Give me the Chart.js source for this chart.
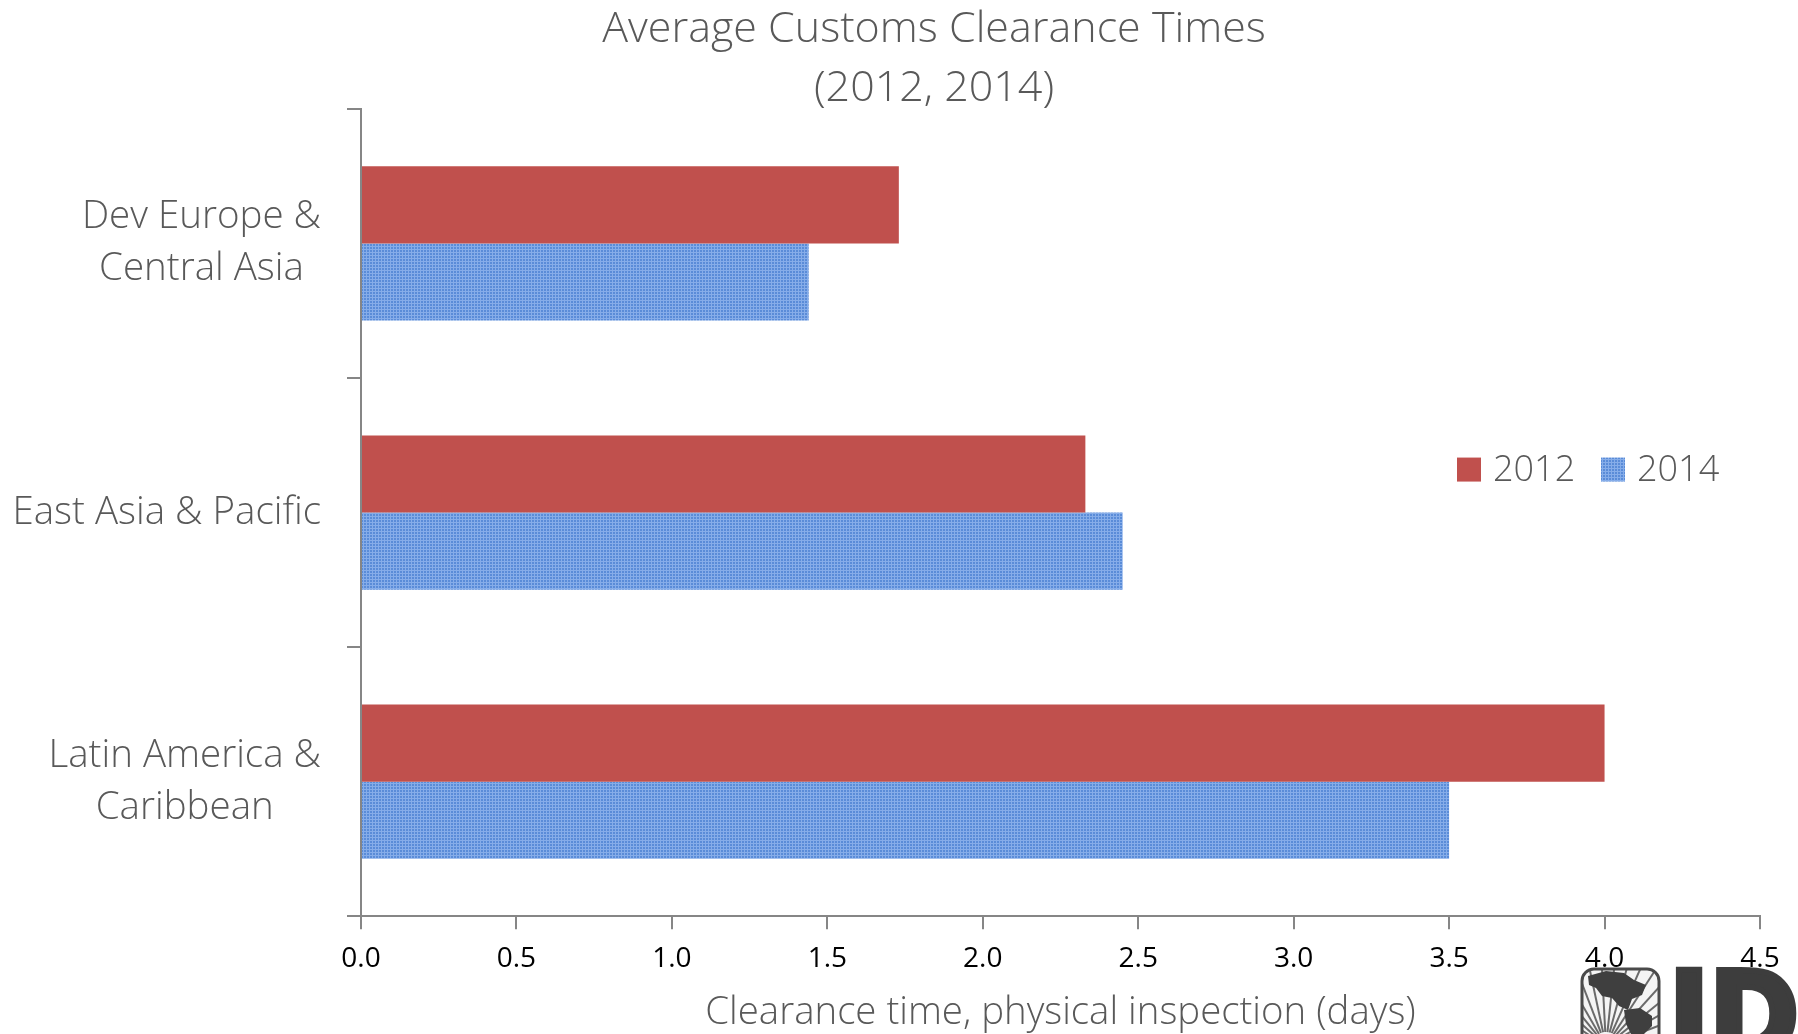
<!DOCTYPE html>
<html>
<head>
<meta charset="utf-8">
<title>Average Customs Clearance Times</title>
<script src="https://cdn.jsdelivr.net/npm/chart.js@4/dist/chart.umd.min.js"></script>
<style>
  html, body { margin: 0; padding: 0; background: #ffffff; }
  #wrap { width: 1798px; height: 1034px; }
</style>
</head>
<body>
<div id="wrap"><canvas id="chart" width="1798" height="1034"></canvas></div>
<script>
// Regions (multi-line labels are split into lines)
const regions = [
  ['Dev Europe &', 'Central Asia'],
  ['East Asia & Pacific'],
  ['Latin America &', 'Caribbean']
];
const seriesNames = ['2012', '2014'];
// Clearance time, physical inspection (days)
const days2012 = [1.73, 2.33, 4.0];
const days2014 = [1.44, 2.45, 3.5];
const xTickLabels = ['0.0', '0.5', '1.0', '1.5', '2.0', '2.5', '3.0', '3.5', '4.0', '4.5'];

const FONT = 'Open Sans';
const TEXT_GREY = '#595959';
const AXIS_GREY = '#868686';
const RED = '#C0504D';

// Small-grid blue fill used for the 2014 series
function makeGridPattern() {
  const tile = document.createElement('canvas');
  tile.width = 3; tile.height = 3;
  const t = tile.getContext('2d');
  t.fillStyle = '#5A8CD8';
  t.fillRect(0, 0, 3, 3);
  t.fillStyle = '#86ADE9';
  t.fillRect(0, 0, 3, 1);
  t.fillRect(0, 0, 1, 3);
  return t.createPattern(tile, 'repeat');
}

const canvas = document.getElementById('chart');
const ctx = canvas.getContext('2d');
const bluePattern = makeGridPattern();

// Category labels: each label block right-aligned to the axis, lines centred within the block
const regionLabels = {
  id: 'regionLabels',
  afterDraw(chart) {
    const c = chart.ctx;
    const y = chart.scales.y;
    const rightEdge = y.right - 40;
    const lineGap = 52;
    c.save();
    c.font = `300 38.5px "${FONT}"`;
    c.fillStyle = TEXT_GREY;
    c.textAlign = 'center';
    c.textBaseline = 'middle';
    chart.data.labels.forEach((lines, i) => {
      const cy = y.getPixelForValue(i);
      const widest = Math.max(...lines.map(l => c.measureText(l).width));
      const cx = rightEdge - widest / 2;
      lines.forEach((l, j) => {
        c.fillText(l, cx, cy + (j - (lines.length - 1) / 2) * lineGap);
      });
    });
    c.restore();
  }
};

// Legend drawn inside the plot, to the right of the middle category
const insideLegend = {
  id: 'insideLegend',
  afterDraw(chart) {
    const c = chart.ctx;
    const area = chart.chartArea;
    const cy = (chart.scales.y.getPixelForValue(1)) - 43;
    const starts = [area.left + 1096, area.left + 1240];
    c.save();
    c.font = `300 36px "${FONT}"`;
    c.textBaseline = 'middle';
    c.textAlign = 'left';
    chart.data.datasets.forEach((ds, i) => {
      const x = starts[i];
      c.fillStyle = ds.backgroundColor;
      c.fillRect(x, cy - 12, 24, 24);
      c.fillStyle = TEXT_GREY;
      c.fillText(ds.label, x + 36, cy + 1);
    });
    c.restore();
  }
};

// Publisher mark in the bottom-right corner
const cornerMark = {
  id: 'cornerMark',
  afterDraw(chart) {
    const c = chart.ctx;
    c.save();
    // globe badge
    c.beginPath();
    c.roundRect(1582, 969, 77, 90, [12, 12, 0, 0]);
    c.fillStyle = '#f4f4f4';
    c.fill();
    c.save();
    c.clip();
    c.strokeStyle = '#6a6a6a';
    c.lineWidth = 2;
    for (let a = -165; a <= -15; a += 9) {
      const r = a * Math.PI / 180;
      c.beginPath();
      c.moveTo(1606 + Math.cos(r) * 14, 1046 + Math.sin(r) * 14);
      c.lineTo(1606 + Math.cos(r) * 90, 1046 + Math.sin(r) * 90);
      c.stroke();
    }
    c.fillStyle = '#3f3f3f';
    c.beginPath();
    c.moveTo(1588, 976); c.lineTo(1606, 971); c.lineTo(1624, 973);
    c.lineTo(1634, 980); c.lineTo(1646, 985); c.lineTo(1642, 995);
    c.lineTo(1632, 999); c.lineTo(1628, 1010); c.lineTo(1619, 1006);
    c.lineTo(1612, 998); c.lineTo(1602, 996); c.lineTo(1596, 988);
    c.lineTo(1589, 985);
    c.closePath(); c.fill();
    c.beginPath();
    c.moveTo(1624, 1010); c.lineTo(1640, 1008); c.lineTo(1652, 1016);
    c.lineTo(1652, 1026); c.lineTo(1644, 1034); c.lineTo(1632, 1036);
    c.lineTo(1626, 1024);
    c.closePath(); c.fill();
    c.restore();
    c.strokeStyle = '#4a4a4a';
    c.lineWidth = 3;
    c.beginPath();
    c.roundRect(1582, 969, 77, 90, [12, 12, 0, 0]);
    c.stroke();
    // heavy condensed lettering
    c.fillStyle = '#3d3d3d';
    c.strokeStyle = '#3d3d3d';
    c.lineWidth = 6;
    c.lineJoin = 'miter';
    c.font = 'bold 120px "Liberation Sans Narrow", "DejaVu Sans Condensed", sans-serif';
    c.textAlign = 'left';
    c.textBaseline = 'alphabetic';
    c.fillText('IDB', 1669, 1057);
    c.strokeText('IDB', 1669, 1057);
    c.restore();
  }
};

new Chart(ctx, {
  type: 'bar',
  data: {
    labels: regions,
    datasets: [
      { label: seriesNames[0], data: days2012, backgroundColor: RED, borderWidth: 0 },
      { label: seriesNames[1], data: days2014, backgroundColor: bluePattern, borderWidth: 0 }
    ]
  },
  options: {
    indexAxis: 'y',
    responsive: false,
    devicePixelRatio: 1,
    animation: false,
    events: [],
    categoryPercentage: 0.573,
    barPercentage: 1.0,
    layout: { padding: { top: 0, left: 108, right: 38, bottom: -2 } },
    plugins: {
      legend: { display: false },
      tooltip: { enabled: false },
      title: {
        display: true,
        text: ['Average Customs Clearance Times', '(2012, 2014)'],
        color: TEXT_GREY,
        font: { family: FONT, size: 43, weight: 300, lineHeight: 1.37 },
        padding: { top: 0, bottom: -9 }
      }
    },
    scales: {
      x: {
        min: 0,
        max: 4.5,
        ticks: {
          stepSize: 0.5,
          color: '#000000',
          font: { family: FONT, size: 28 },
          padding: 13,
          callback: (v, i) => xTickLabels[i]
        },
        grid: { drawOnChartArea: false, tickLength: 13, color: AXIS_GREY, lineWidth: 2 },
        border: { color: AXIS_GREY, width: 2 },
        title: {
          display: true,
          text: 'Clearance time, physical inspection (days)',
          color: TEXT_GREY,
          font: { family: FONT, size: 38.4, weight: 300, lineHeight: 1.2 },
          padding: { top: 1, bottom: 0 }
        },
        afterFit(s) { s.paddingLeft = 0; s.paddingRight = 0; }
      },
      y: {
        offset: true,
        ticks: { display: false },
        grid: { offset: true, drawOnChartArea: false, tickLength: 14, color: AXIS_GREY, lineWidth: 2 },
        border: { color: AXIS_GREY, width: 2 },
        afterFit(s) { s.width = 253; s.paddingTop = 0; s.paddingBottom = 0; }
      }
    }
  },
  plugins: [regionLabels, insideLegend, cornerMark]
});
</script>
</body>
</html>
